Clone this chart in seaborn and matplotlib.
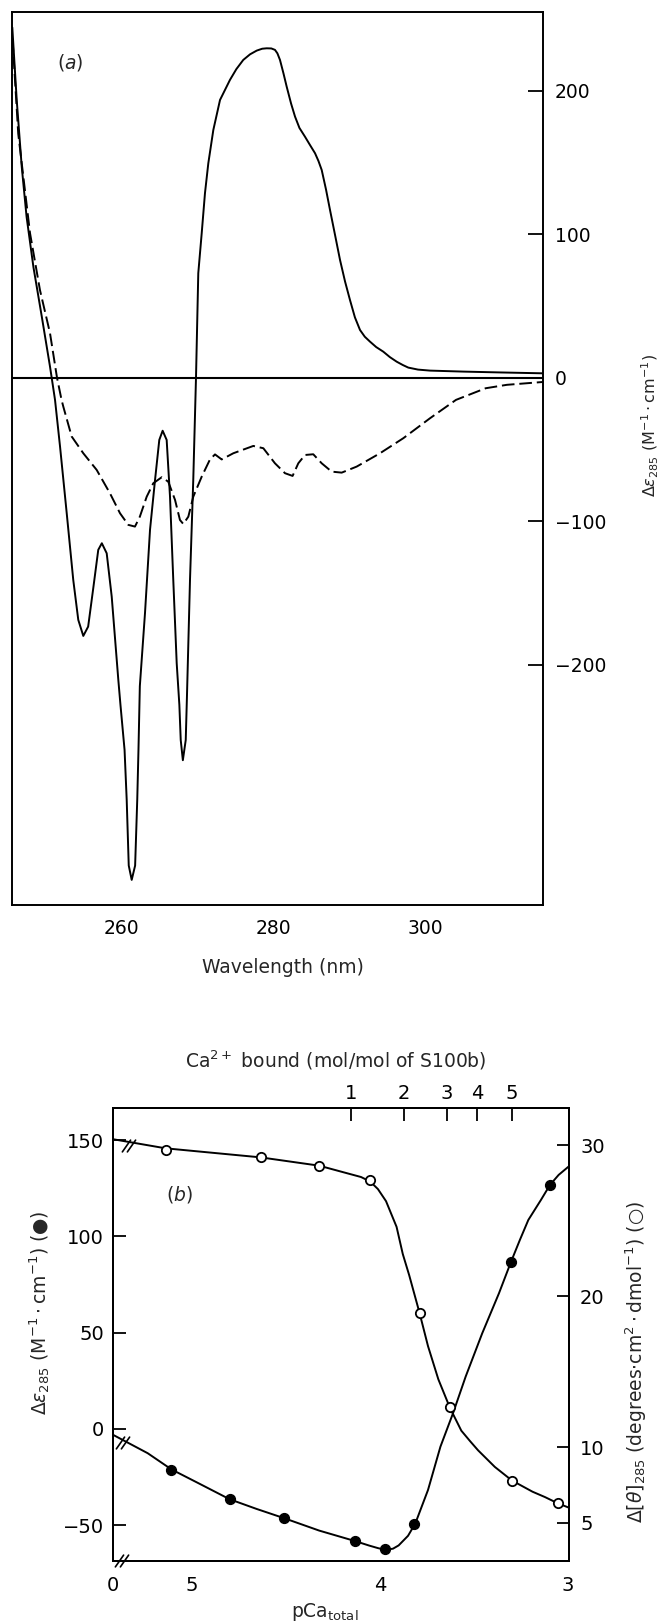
import matplotlib
matplotlib.use('Agg')
import matplotlib.pyplot as plt
import seaborn as sns

# ---------- panel (a): CD spectra ----------
wl_solid = [245.62, 246.2, 246.86, 247.5, 248.4, 249.5, 250.58, 250.8, 251.24, 251.9,
            252.78, 253.64, 254.3, 254.96, 255.6, 256.3, 256.93, 257.4, 258.04, 258.7,
            259.57, 259.85, 260.39, 260.67, 260.94, 261.33, 261.78, 262.06, 262.22, 262.4,
            263.08, 263.74, 264.4, 264.96, 265.4, 265.93, 266.37, 266.8, 267.25, 267.6,
            267.78, 268.06, 268.44, 268.6, 269.0, 269.43, 269.79, 270.09, 270.54, 270.97,
            271.41, 272.07, 272.95, 274.26, 275.1, 276.01, 276.9, 277.78, 278.5, 279.09,
            279.7, 280.18, 280.5, 280.84, 281.3, 281.72, 282.3, 282.82, 283.4, 284.13,
            284.8, 285.45, 285.9, 286.33, 286.9, 287.42, 288.1, 288.74, 289.4, 290.05,
            290.7, 291.37, 292.0, 292.68, 293.5, 294.43, 295.3, 296.2, 297.0, 297.72,
            299.0, 300.58, 305.0, 310.0, 315.5]
cd_solid = [244, 193.5, 147, 112, 77, 42.5, 7.7, 0, -15.5, -48,
            -94.5, -141, -168.8, -180, -173.5, -145.6, -120, -115.4, -122.4, -152.6,
            -210.7, -228, -259.4, -294, -340, -350, -340, -294, -259.4, -215,
            -164, -106, -71.3, -43.4, -37, -43.4, -83, -141, -199, -228,
            -252.5, -266.6, -252.5, -222, -141, -71.3, 0, 72.8, 100.6, 128.5,
            149.4, 172.6, 193.5, 207.5, 215.0, 221.4, 225.3, 227.9, 229.2, 229.5,
            229.4, 228.4, 226.0, 221.4, 212.0, 202.8, 191.0, 181.9, 174.0, 167.9,
            162.0, 156.4, 151.0, 144.7, 131.0, 116.9, 99.0, 82.0, 67.0, 54.1,
            42.0, 33.2, 28.5, 25.1, 21.3, 18.1, 14.3, 11.1, 8.8, 7.0,
            5.6, 4.9, 4.2, 3.6, 3.0]

wl_dash = [245.65, 246.4, 247.95, 249.26, 250.58, 251.5, 252.1, 252.33, 253.43, 254.96,
           256.72, 258.47, 259.79, 260.88, 261.76, 262.4, 263.3, 264.17, 265.28, 266.14,
           267.03, 267.68, 268.12, 268.78, 269.43, 270.54, 271.63, 272.29, 273.17, 274.7,
           277.33, 278.65, 280.18, 281.5, 282.5, 283.25, 284.13, 285.22, 286.33, 287.64,
           288.96, 290.93, 294.0, 297.07, 300.58, 304.0, 307.9, 310.7, 315.5]
cd_dash = [236, 170, 100.7, 61, 31, 0, -15.5, -20.2, -41, -52.7,
           -64.3, -80.6, -94.5, -102.6, -103.8, -96.9, -83, -73.6, -69.4, -72.5,
           -85.2, -99.2, -102, -96.9, -83, -69, -57, -53.5, -57, -52.7,
           -47.6, -49.2, -59.7, -66.6, -68.5, -59.7, -53.9, -53.4, -59.7, -65.5,
           -66.2, -62, -52.7, -42.2, -28.3, -15.5, -7.4, -5, -3]

wl_ticks = [260, 280, 300]
cd_ticks = [-200, -100, 0, 100, 200]
cd_tick_labels = ['\u2212200', '\u2212100', '0', '100', '200']

# ---------- panel (b): Ca2+ titration ----------
pca_eps_pts = [5.107, 4.798, 4.507, 4.133, 3.971, 3.816, 3.304, 3.096]
eps_pts = [-21.3, -36.5, -46.4, -58.2, -62.5, -49.4, 86.6, 126.8]
pca_eps_fit = [5.416, 5.233, 5.107, 4.967, 4.798, 4.656, 4.507, 4.322, 4.133, 4.056,
               4.01, 3.971, 3.93, 3.9, 3.85, 3.811, 3.78, 3.744, 3.678, 3.611,
               3.544, 3.456, 3.367, 3.304, 3.256, 3.211, 3.144, 3.096, 3.05, 2.995]
eps_fit = [-3.1, -12.6, -21.0, -28.0, -36.5, -41.5, -46.4, -52.8, -58.2, -60.6,
           -61.9, -62.8, -62.2, -60.5, -55.5, -49.0, -41.0, -31.7, -9.2, 8.2,
           27.2, 49.7, 70.5, 86.6, 98.2, 108.6, 119.0, 126.8, 132.0, 136.5]

pca_theta_pts = [5.138, 4.633, 4.322, 4.051, 3.789, 3.627, 3.298, 3.056]
theta_pts = [29.7, 29.2, 28.65, 27.7, 18.9, 12.7, 7.8, 6.3]
pca_theta_fit = [5.416, 5.138, 4.633, 4.322, 4.189, 4.1, 4.051, 4.01, 3.967, 3.911,
                 3.878, 3.844, 3.789, 3.744, 3.689, 3.627, 3.567, 3.52, 3.478, 3.389,
                 3.298, 3.189, 3.122, 3.056, 2.995]
theta_fit = [30.4, 29.8, 29.2, 28.65, 28.2, 27.9, 27.6, 27.1, 26.3, 24.6,
             22.8, 21.4, 18.9, 16.7, 14.5, 12.6, 11.1, 10.4, 9.8, 8.7,
             7.8, 7.06, 6.7, 6.3, 6.0]

pca_tick_pos = [5.42, 5, 4, 3]
pca_tick_labels = ['0', '5', '4', '3']
ca_bound_pos = [4.153, 3.874, 3.645, 3.485, 3.30]
ca_bound_labels = ['1', '2', '3', '4', '5']
eps_ticks = [-50, 0, 50, 100, 150]
eps_tick_labels = ['\u221250', '0', '50', '100', '150']
theta_ticks = [5, 10, 20, 30]

sns.set_style('white')
plt.rcParams['font.family'] = ['DejaVu Sans']
plt.rcParams['mathtext.fontset'] = 'dejavusans'

fig = plt.figure(figsize=(6.62, 16.23), dpi=100)
ax_a = fig.add_axes([0.01813, 0.44239, 0.80272, 0.55022])
ax_b = fig.add_axes([0.16994, 0.0382, 0.68958, 0.27893])

LW = 1.4
line_kw = dict(color='black', lw=LW, estimator=None, sort=False,
               solid_joinstyle='round', solid_capstyle='round')

# ---- panel (a) ----
sns.lineplot(x=wl_solid, y=cd_solid, ax=ax_a, **line_kw)
sns.lineplot(x=wl_dash, y=cd_dash, ax=ax_a, color='black', lw=LW,
             linestyle=(0, (6.5, 2.5)), estimator=None, sort=False)
ax_a.axhline(0, color='black', lw=1.5)

ax_a.set_xlim(245.58, 315.5)
ax_a.set_ylim(-367.5, 254.8)
ax_a.set_xticks(wl_ticks)
ax_a.set_yticks(cd_ticks, labels=cd_tick_labels)
ax_a.yaxis.tick_right()
ax_a.tick_params(axis='y', direction='in', length=10.5, width=1.3, pad=8,
                 labelsize=13.5, colors='black')
ax_a.tick_params(axis='x', direction='in', length=9.5, width=1.3, pad=10,
                 labelsize=13.5, colors='black')
for sp in ax_a.spines.values():
    sp.set_linewidth(1.4)
    sp.set_color('black')

ax_a.set_xlabel('Wavelength (nm)', fontsize=13.5)
ax_a.xaxis.set_label_coords(0.51, -0.0594)
ax_a.set_ylabel(r'$\Delta\epsilon_{285}$ (M$^{-1}\cdot$cm$^{-1}$)', fontsize=11.5)
ax_a.yaxis.set_label_position('right')
ax_a.yaxis.set_label_coords(1.2006, 0.5375)
ax_a.yaxis.label.set_verticalalignment('center')
ax_a.text(0.109, 0.943, r'($\mathit{a}$)', transform=ax_a.transAxes,
          ha='center', va='center', fontsize=13.5)

# ---- panel (b) ----
ax_t = ax_b.twinx()

sns.lineplot(x=pca_eps_fit, y=eps_fit, ax=ax_b, **line_kw)
sns.scatterplot(x=pca_eps_pts, y=eps_pts, ax=ax_b, color='black', s=50,
                edgecolor='black', linewidth=1.0, zorder=3)
sns.lineplot(x=pca_theta_fit, y=theta_fit, ax=ax_t, **line_kw)
sns.scatterplot(x=pca_theta_pts, y=theta_pts, ax=ax_t, color='white', s=45,
                edgecolor='black', linewidth=1.3, zorder=3)

ax_b.set_xlim(5.42, 2.995)
ax_b.set_ylim(-68.6, 166.6)
ax_t.set_ylim(2.47, 32.45)

ax_b.set_xticks(pca_tick_pos, labels=pca_tick_labels)
ax_b.set_yticks(eps_ticks, labels=eps_tick_labels)
ax_t.set_yticks(theta_ticks, labels=[str(t) for t in theta_ticks])

ax_b.tick_params(axis='both', direction='in', length=9.5, width=1.3,
                 labelsize=14, colors='black')
ax_b.tick_params(axis='y', pad=6)
ax_b.tick_params(axis='x', pad=11)
ax_t.tick_params(axis='y', direction='in', length=9, width=1.3, pad=8,
                 labelsize=14, colors='black')

sec = ax_b.secondary_xaxis('top')
sec.set_xticks(ca_bound_pos, labels=ca_bound_labels)
sec.tick_params(direction='in', length=9.5, width=1.3, pad=4, labelsize=14,
                colors='black')

for a in (ax_b, ax_t, sec):
    for sp in a.spines.values():
        sp.set_linewidth(1.4)
        sp.set_color('black')

ax_b.set_xlabel(r'pCa$_{\mathrm{total}}$', fontsize=13.5)
ax_b.xaxis.set_label_coords(0.4655, -0.088)
ax_b.set_ylabel(r'$\Delta\epsilon_{285}$ (M$^{-1}\cdot$cm$^{-1}$) ' + '(\u25CF)',
                fontsize=13.5)
ax_b.yaxis.set_label_coords(-0.159, 0.548)
ax_b.yaxis.label.set_verticalalignment('center')
ax_t.set_ylabel(r'$\Delta[\theta]_{285}$ (degrees$\cdot$cm$^{2}\cdot$dmol$^{-1}$) '
                + '(\u25CB)', fontsize=13.5)
ax_t.yaxis.set_label_coords(1.148, 0.4396)
ax_t.yaxis.label.set_verticalalignment('center')

ax_b.text(0.4887, 1.1067, r'Ca$^{2+}$ bound (mol/mol of S100b)',
          transform=ax_b.transAxes, ha='center', va='center', fontsize=13.5)
ax_b.text(0.1466, 0.8085, r'($\mathit{b}$)', transform=ax_b.transAxes,
          ha='center', va='center', fontsize=13.5)

# axis-break marks "//"
for cx, cy in [(0.0361, 0.9167), (0.0230, 0.2607), (0.0208, 0.0)]:
    for off in (-0.0055, 0.0055):
        ax_b.plot([cx + off - 0.009, cx + off + 0.009], [cy - 0.013, cy + 0.013],
                  color='black', lw=1.2, transform=ax_b.transAxes, clip_on=False)

fig.savefig('out.png', dpi=100)
